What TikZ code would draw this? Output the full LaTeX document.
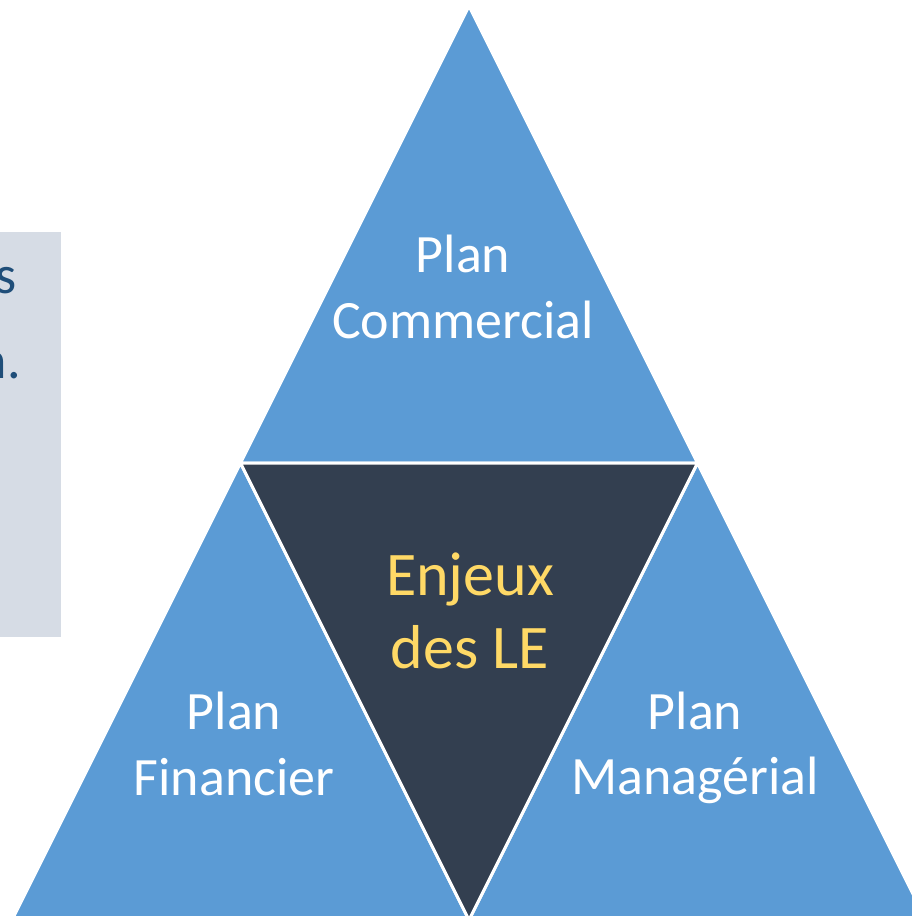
\documentclass[tikz,border=0pt]{standalone}
\usepackage{fontspec}
\setmainfont{Carlito}
\definecolor{planblue}{HTML}{5B9BD5}
\definecolor{darkcore}{HTML}{333F50}
\definecolor{goldtxt}{HTML}{FFD966}
\definecolor{greybox}{HTML}{D6DCE5}
\definecolor{navytxt}{HTML}{1F4E79}
\tikzset{
  facet/.style={draw=white, line width=3pt, line join=miter},
  plantxt/.style={text=white, align=center, inner sep=0pt, font=\fontsize{54}{66}\selectfont},
  coretxt/.style={text=goldtxt, align=center, inner sep=0pt, font=\fontsize{62}{73}\selectfont},
  sidetxt/.style={text=navytxt, inner sep=0pt, anchor=base east, font=\fontsize{54}{66}\selectfont}
}
\begin{document}
\begin{tikzpicture}[x=1pt,y=-1pt]
\useasboundingbox (0,0) rectangle (912,916);
\clip (0,0) rectangle (912,916);
\fill[white] (0,0) rectangle (912,916);
% side panel
\fill[greybox] (0,232) rectangle (61,637);
\node[sidetxt] (s1) at (17,293) {s};
\node[sidetxt] (s2) at (21,378) {n.};
% pyramid corners
\coordinate (A) at (469,6);
\coordinate (L) at (240.5,463);
\coordinate (R) at (697.5,463);
\coordinate (BL) at (12,920);
\coordinate (BM) at (469,920);
\coordinate (BR) at (926,920);
\filldraw[facet, fill=planblue] (A) -- (L) -- (R) -- cycle;
\filldraw[facet, fill=planblue] (L) -- (BL) -- (BM) -- cycle;
\filldraw[facet, fill=planblue] (R) -- (BM) -- (BR) -- cycle;
\filldraw[facet, fill=darkcore] (L) -- (R) -- (BM) -- cycle;
% labels
\node[plantxt, anchor=base] (top1) at (463,272) {Plan};
\node[plantxt, anchor=base] (top2) at (463,338) {Commercial};
\node[coretxt, anchor=base] (mid1) at (470,595) {Enjeux};
\node[coretxt, anchor=base] (mid2) at (470,668) {des LE};
\node[plantxt, anchor=base] (lft1) at (234,729) {Plan};
\node[plantxt, anchor=base] (lft2) at (234,795) {Financier};
\node[plantxt, anchor=base] (rgt1) at (695,729) {Plan};
\node[plantxt, anchor=base] (rgt2) at (695,794) {Managérial};
\end{tikzpicture}
\end{document}
